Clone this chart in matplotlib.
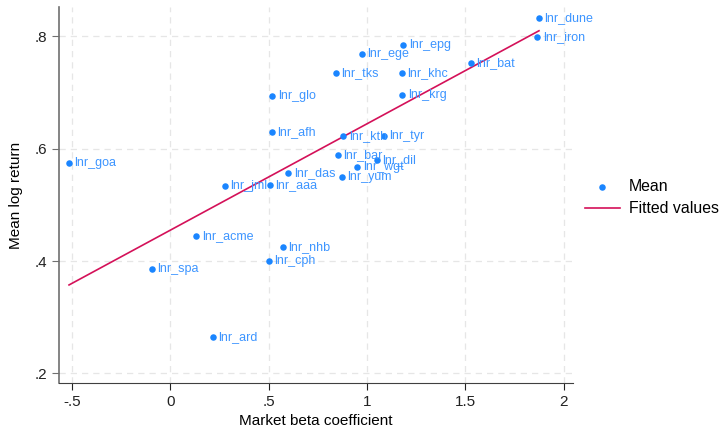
import numpy as np
import matplotlib
matplotlib.use("Agg")
import matplotlib.pyplot as plt

plt.rcParams['font.family'] = ['Liberation Sans', 'DejaVu Sans']

names = ["lnr_dune", "lnr_iron", "lnr_epg", "lnr_ege", "lnr_bat", "lnr_tks", "lnr_khc",
         "lnr_krg", "lnr_kth", "lnr_tyr", "lnr_bar", "lnr_dil", "lnr_wgt", "lnr_yum",
         "lnr_glo", "lnr_afh", "lnr_goa", "lnr_das", "lnr_jml", "lnr_aaa",
         "lnr_acme", "lnr_nhb", "lnr_cph", "lnr_spa", "lnr_ard"]
beta = [1.875, 1.867, 1.184, 0.975, 1.528, 0.841, 1.177,
        1.180, 0.880, 1.085, 0.851, 1.050, 0.951, 0.873,
        0.519, 0.516, -0.515, 0.600, 0.277, 0.506,
        0.132, 0.573, 0.502, -0.093, 0.216]
mean_ret = [0.833, 0.798, 0.785, 0.768, 0.753, 0.735, 0.734,
            0.696, 0.623, 0.622, 0.589, 0.579, 0.568, 0.549,
            0.693, 0.629, 0.574, 0.556, 0.534, 0.536,
            0.444, 0.425, 0.400, 0.385, 0.264]

xticks = [-0.5, 0, 0.5, 1, 1.5, 2]
xticklabels = ["-.5", "0", ".5", "1", "1.5", "2"]
yticks = [0.2, 0.4, 0.6, 0.8]
yticklabels = [".2", ".4", ".6", ".8"]

blue = "#1a85ff"
red = "#d41159"

fig = plt.figure(figsize=(7.22, 4.30), dpi=100)
ax = fig.add_axes([59/722, 1-383/430, (573-59)/722, (383-7)/430])

x = np.array(beta)
y = np.array(mean_ret)
b, a = np.polyfit(x, y, 1)
xs = np.array([x.min(), x.max()])

sc = ax.scatter(x, y, s=22, color=blue, zorder=3, label="Mean", linewidths=0)
ln, = ax.plot(xs, a + b*xs, color=red, lw=1.2, zorder=2, label="Fitted values")
for n, xi, yi in zip(names, x, y):
    ax.annotate(n, (xi, yi), xytext=(4, 0), textcoords="offset points",
                va="center", ha="left", fontsize=9, color="#3d95ff", zorder=4)

ax.set_xlim(-0.566, 2.048)
ax.set_ylim(0.183, 0.852)
ax.set_xticks(xticks)
ax.set_xticklabels(xticklabels)
ax.set_yticks(yticks)
ax.set_yticklabels(yticklabels)
ax.grid(True, color="#e6e6e6", linestyle=(0, (5, 4)), lw=0.9)
ax.set_axisbelow(True)
for s in ["top", "right"]:
    ax.spines[s].set_visible(False)
ax.spines["left"].set_color("#707070")
ax.spines["bottom"].set_color("#404040")
ax.spines["left"].set_linewidth(1.2)
ax.tick_params(axis="both", direction="out", length=5, labelsize=11, colors="#222222")
ax.tick_params(axis="y", color="#707070")
ax.set_xlabel("Market beta coefficient", fontsize=11, labelpad=4)
ax.set_ylabel("Mean log return", fontsize=11, labelpad=8)

leg = fig.legend(handles=[sc, ln], loc="upper left", bbox_to_anchor=(585/722, 1-179/430),
                 frameon=False, fontsize=11.4, handlelength=2.2, handletextpad=0.55,
                 labelspacing=0.45, scatterpoints=1, borderpad=0, borderaxespad=0)

fig.savefig("out.png", dpi=100)
